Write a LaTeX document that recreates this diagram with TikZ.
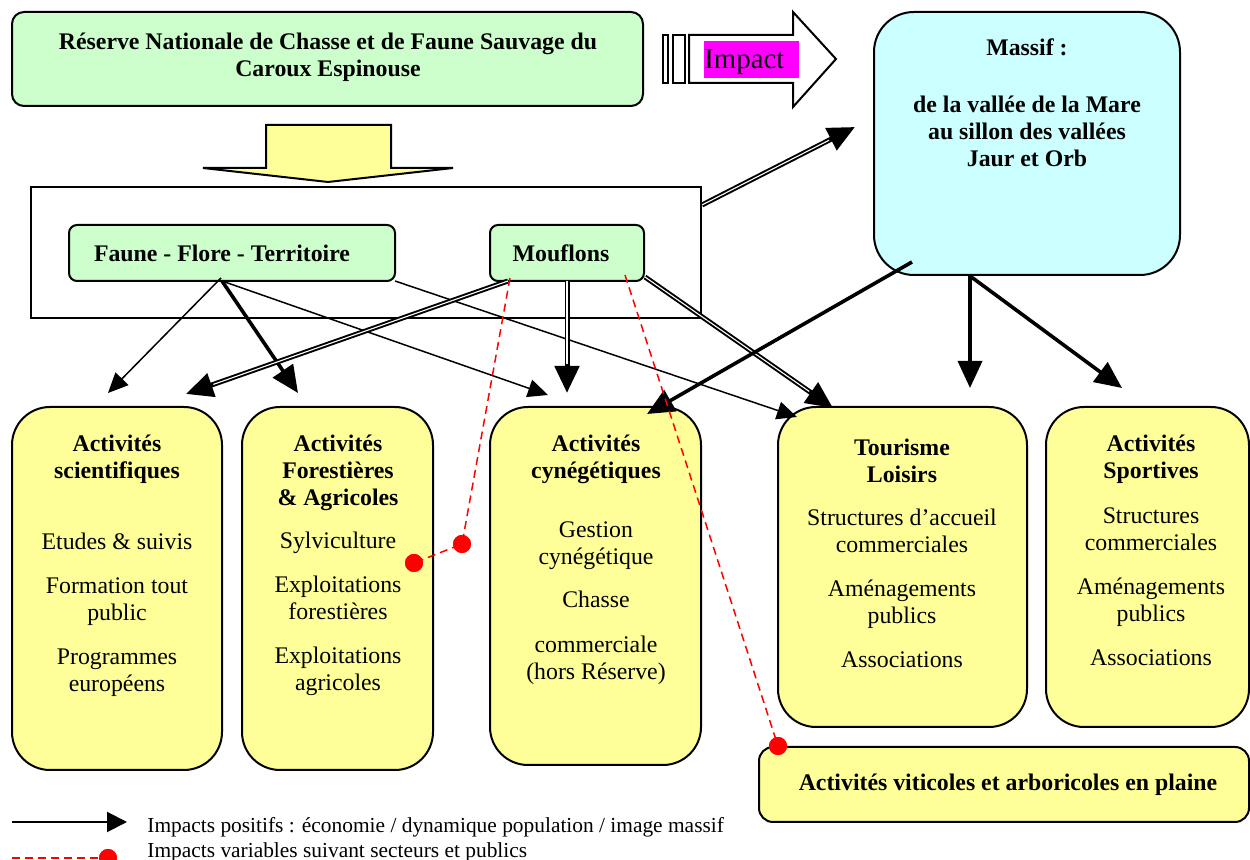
\documentclass[tikz,border=0pt]{standalone}
\usepackage{fontspec}
\setmainfont{Liberation Serif}
\usetikzlibrary{arrows.meta,fit,calc}
\definecolor{cgreen}{HTML}{CCFFCC}
\definecolor{ccyan}{HTML}{CCFFFF}
\definecolor{cyellow}{HTML}{FFFF99}
\definecolor{cmagenta}{HTML}{FF00FF}
\begin{document}
\begin{tikzpicture}[x=0.5pt,y=-0.5pt,
  box/.style={draw=black, line width=1pt, inner sep=0pt},
  gbox/.style={box, fill=cgreen},
  ybox/.style={box, fill=cyellow, rounded corners=19pt},
  txt/.style={align=center, inner sep=0pt, font=\fontsize{11.9}{13.5}\selectfont},
  btxt/.style={align=center, inner sep=0pt, font=\fontsize{11.9}{13.5}\selectfont\bfseries},
  thinarrow/.style={line width=0.75pt, -{Triangle[length=10pt,width=9pt]}},
  thickarrow/.style={line width=1.8pt, -{Triangle[length=13.5pt,width=12pt]}},
  dblarrow/.style={line width=2.5pt, -{Triangle[length=13.5pt,width=12pt]}},
  dblinner/.style={white, line width=0.55pt, shorten >=14.5pt},
  rdash/.style={draw=red, line width=0.75pt, dash pattern=on 4pt off 2.5pt},
  rdot/.style={circle, fill=red, inner sep=0pt, minimum size=9pt},
  legtxt/.style={anchor=west, inner sep=0pt, font=\fontsize{10.7}{12}\selectfont},
]
\useasboundingbox (0,0) rectangle (1250,860);

% top box
\node[gbox, rounded corners=6pt, fit={(12,12)(643,106)}] (rnc) {};
\node[btxt] (rnct) at (328,57) {Réserve Nationale de Chasse et de Faune Sauvage du\\Caroux Espinouse};

% impact arrow
\draw[line width=1pt, fill=white] (663,35) rectangle (668,83);
\draw[line width=1pt, fill=white] (673,35) rectangle (685,83);
\draw[line width=1pt, fill=white] (689,35) -- (793,35) -- (793,12) -- (836,59) -- (793,107) -- (793,83) -- (689,83) -- cycle;
\node[fill=cmagenta, inner sep=0pt, fit={(704,41)(799,78)}] (impbg) {};
\node[anchor=west, inner sep=0pt, font=\fontsize{14.4}{16}\selectfont] (imp) at (704,62.5) {Impact};

% yellow down arrow
\draw[line width=1pt, fill=cyellow] (266,125) -- (391,125) -- (391,168) -- (453,168) -- (328,182) -- (203,168) -- (266,168) -- cycle;

% container
\node[box, line width=0.9pt, fit={(31,187)(701,318)}] (cont) {};
\node[gbox, rounded corners=4pt, fit={(69,225)(395,281)}] (faune) {};
\node[btxt] (faunet) at (222,253) {Faune - Flore - Territoire};
\node[gbox, rounded corners=4pt, fit={(490,225)(644,281)}] (mouf) {};
\node[btxt] (mouft) at (561,253) {Mouflons};

% massif
\node[box, fill=ccyan, rounded corners=20pt, fit={(874,12)(1180,275)}] (massif) {};
\node[btxt] (massift) at (1027,47.5) {Massif :};
\node[btxt] (massifb) at (1027,131) {de la vallée de la Mare\\au sillon des vallées\\Jaur et Orb};

% yellow boxes
\node[ybox, fit={(12,407)(222,770)}] (sci) {};
\node[btxt] (scit) at (117,459) {Activités\\scientifiques};
\node[txt] (scib) at (117,614.5) {Etudes \& suivis\\[8.5pt]Formation tout\\public\\[8.5pt]Programmes\\européens};

\node[ybox, fit={(242,407)(433,770)}] (for) {};
\node[btxt] (fort) at (338,472.5) {Activités\\Forestières\\\& Agricoles};
\node[txt] (forb) at (338,614) {Sylviculture\\[8.5pt]Exploitations\\forestières\\[8.5pt]Exploitations\\agricoles};

\node[ybox, fit={(490,407)(701,765)}] (cyn) {};
\node[btxt] (cynt) at (596,459) {Activités\\cynégétiques};
\node[txt] (cynb) at (596,603) {Gestion\\cynégétique\\[8pt]Chasse\\[9pt]commerciale\\(hors Réserve)};

\node[ybox, fit={(778,407)(1027,727)}] (tour) {};
\node[btxt] (tourt) at (902,461) {Tourisme\\Loisirs};
\node[txt] (tourb) at (902,588.5) {Structures d'accueil\\commerciales\\[8.5pt]Aménagements\\publics\\[8.5pt]Associations};

\node[ybox, fit={(1046,407)(1249,727)}] (sport) {};
\node[btxt] (sportt) at (1151,459) {Activités\\Sportives};
\node[txt] (sportb) at (1151,587) {Structures\\commerciales\\[8.5pt]Aménagements\\publics\\[8.5pt]Associations};

\node[box, fill=cyellow, rounded corners=7pt, fit={(759,747)(1249,822)}] (viti) {};
\node[btxt] (vitit) at (1008,785) {Activités viticoles et arboricoles en plaine};

% connector endpoints
\coordinate (f1) at (222,281);
\coordinate (f0) at (221,278);
\coordinate (t1) at (108,393);
\coordinate (t2) at (298,393);
\coordinate (t3) at (548,395);
\coordinate (f4) at (395,281);
\coordinate (t4) at (797,417);
\coordinate (m5) at (508,281);
\coordinate (t5) at (186,394);
\coordinate (m6) at (567,281);
\coordinate (t6) at (567,393);
\coordinate (m7) at (645,277);
\coordinate (t7) at (833,408);
\coordinate (c8) at (702,205);
\coordinate (t8) at (855,127);
\coordinate (s9) at (912,262);
\coordinate (t9) at (647,414);
\coordinate (s10) at (970,276);
\coordinate (t10) at (970,388);
\coordinate (t11) at (1122,388);

% arrows
\draw[thinarrow] (f0) -- (t1);
\draw[thickarrow] (f1) -- (t2);
\draw[thinarrow] (f1) -- (t3);
\draw[thinarrow] (f4) -- (t4);
\draw[dblarrow] (m5) -- (t5);
\draw[dblinner] (m5) -- (t5);
\draw[dblarrow] (m6) -- (t6);
\draw[dblinner] (m6) -- (t6);
\draw[dblarrow] (m7) -- (t7);
\draw[dblinner] (m7) -- (t7);
\draw[dblarrow] (c8) -- (t8);
\draw[dblinner] (c8) -- (t8);
\draw[thickarrow] (s9) -- (t9);
\draw[thickarrow] (s10) -- (t10);
\draw[thickarrow] (s10) -- (t11);

% red dashed
\coordinate (r1) at (510,278);
\coordinate (r2) at (625,275);
\node[rdot] (d1) at (462,544) {};
\node[rdot] (d2) at (414,563) {};
\node[rdot] (d3) at (778,746) {};
\draw[rdash] (r1) -- (d1.center) -- (d2.center);
\draw[rdash] (r2) -- (d3.center);
\node[rdot] at (d1) {};
\node[rdot] at (d2) {};
\node[rdot] at (d3) {};

% legend
\coordinate (l1) at (12,822);
\coordinate (l2) at (127,822);
\draw[line width=1pt, -{Triangle[length=10pt,width=10pt]}] (l1) -- (l2);
\node[legtxt] (leg1) at (147,827) {Impacts positifs : économie / dynamique population / image massif};
\coordinate (l3) at (12,858);
\node[rdot] (ld) at (108,858) {};
\draw[rdash] (l3) -- (ld.center);
\node[rdot] at (ld) {};
\node[legtxt] (leg2) at (147,852) {Impacts variables suivant secteurs et publics};
\end{tikzpicture}
\end{document}
